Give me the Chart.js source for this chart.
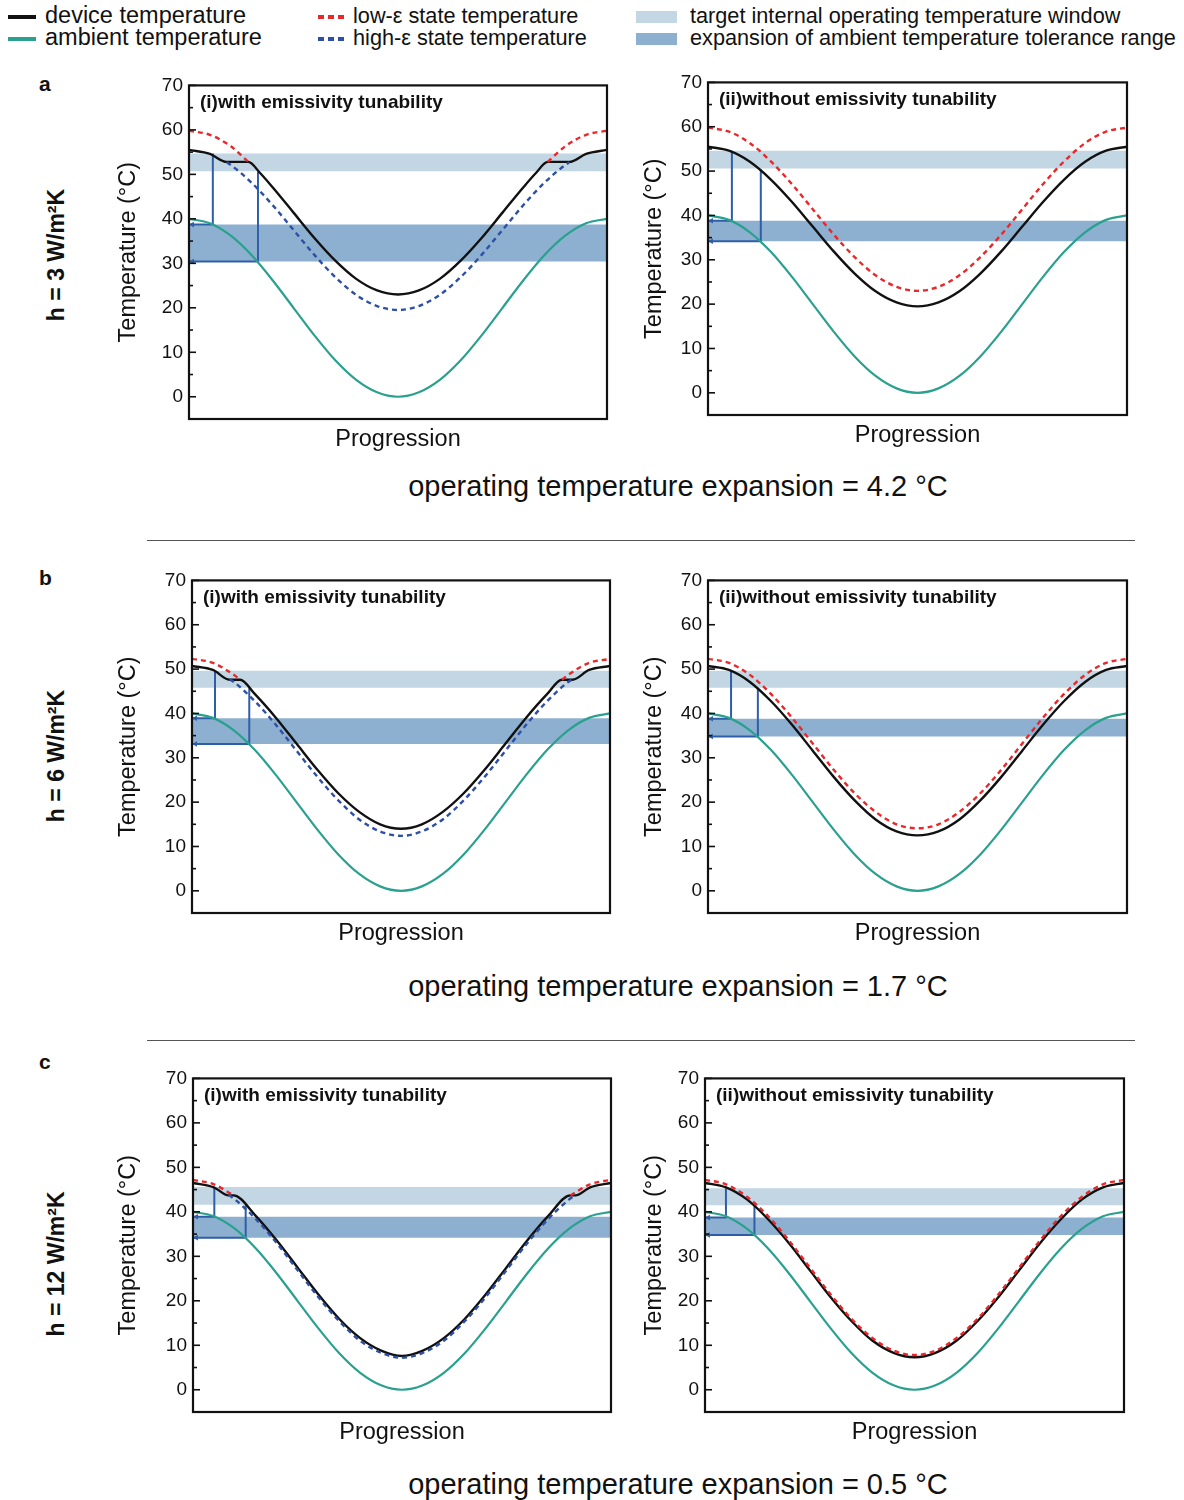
<!DOCTYPE html>
<html><head><meta charset="utf-8">
<script src="https://cdn.jsdelivr.net/npm/chart.js@4.4.1/dist/chart.umd.min.js"></script>
<style>
html,body{margin:0;padding:0;background:#fff}
body{width:1184px;height:1500px;position:relative;overflow:hidden;font-family:"Liberation Sans",Arial,Helvetica,sans-serif;color:#111}
.abs{position:absolute;white-space:nowrap;line-height:1}
canvas{position:absolute}
</style></head><body>
<script>
// ---------------- DATA ----------------
const tGrid = [0,0.05,0.1,0.15,0.2,0.25,0.3,0.35,0.4,0.45,0.5,0.55,0.6,0.65,0.7,0.75,0.8,0.85,0.9,0.95,1];
const ambientTemp = [40,39.0,36.2,31.8,26.2,20.0,13.8,8.2,3.8,1.0,0.0,1.0,3.8,8.2,13.8,20.0,26.2,31.8,36.2,39.0,40];
const yTickValues = [0,10,20,30,40,50,60,70];
const yMinorValues = [5,15,25,35,45,55,65];

// row a : h = 3 W/m2K
const aHighEps = [55.5,54.6,52.1,48.1,43.1,37.5,31.9,26.9,22.9,20.4,19.5,20.4,22.9,26.9,31.9,37.5,43.1,48.1,52.1,54.6,55.5];
const aLowEps  = [59.8,58.9,56.3,52.2,47.1,41.4,35.7,30.6,26.5,23.9,23.0,23.9,26.5,30.6,35.7,41.4,47.1,52.2,56.3,58.9,59.8];
const aTunedX = [0,0.05,0.09,0.142,0.17,0.2,0.25,0.3,0.35,0.4,0.45,0.5,0.55,0.6,0.65,0.7,0.75,0.8,0.83,0.858,0.91,0.95,1];
const aTunedY = [55.5,54.6,52.8,52.8,50.3,47.1,41.4,35.7,30.6,26.5,23.9,23.0,23.9,26.5,30.6,35.7,41.4,47.1,50.3,52.8,52.8,54.6,55.5];
const aLowShownX = [0,0.05,0.1,0.142,0.5,0.858,0.9,0.95,1];
const aLowShownY = [59.8,58.9,56.3,52.8,null,52.8,56.3,58.9,59.8];
const aHighShownX = [0.09,0.1,0.15,0.2,0.25,0.3,0.35,0.4,0.45,0.5,0.55,0.6,0.65,0.7,0.75,0.8,0.85,0.9,0.91];
const aHighShownY = [52.7,52.1,48.1,43.1,37.5,31.9,26.9,22.9,20.4,19.5,20.4,22.9,26.9,31.9,37.5,43.1,48.1,52.1,52.7];
const aTargetI = [50.7,54.7], aExpandI = [30.4,38.7];
const aStepsI = [[0.057,38.7,54.7],[0.165,30.4,50.6]];
const aTargetII = [50.6,54.6], aExpandII = [34.2,38.8];
const aStepsII = [[0.057,38.8,54.6],[0.126,34.2,50.4]];

// row b : h = 6 W/m2K
const bHighEps = [50.7,49.8,47.1,42.8,37.5,31.6,25.7,20.4,16.1,13.4,12.5,13.4,16.1,20.4,25.7,31.6,37.5,42.8,47.1,49.8,50.7];
const bLowEps  = [52.3,51.4,48.7,44.4,39.1,33.2,27.3,22.0,17.8,15.0,14.1,15.0,17.8,22.0,27.3,33.2,39.1,44.4,48.7,51.4,52.3];
const bTunedX = [0,0.05,0.09,0.115,0.15,0.2,0.25,0.3,0.35,0.4,0.45,0.5,0.55,0.6,0.65,0.7,0.75,0.8,0.85,0.885,0.91,0.95,1];
const bTunedY = [50.7,49.8,47.6,47.6,44.4,39.1,33.2,27.3,22.0,17.8,15.0,14.0,15.0,17.8,22.0,27.3,33.2,39.1,44.4,47.6,47.6,49.8,50.7];
const bLowShownX = [0,0.05,0.1,0.115,0.5,0.885,0.9,0.95,1];
const bLowShownY = [52.3,51.4,48.7,47.6,null,47.6,48.7,51.4,52.3];
const bHighShownX = [0.09,0.1,0.15,0.2,0.25,0.3,0.35,0.4,0.45,0.5,0.55,0.6,0.65,0.7,0.75,0.8,0.85,0.9,0.91];
const bHighShownY = [47.7,47.1,42.8,37.5,31.6,25.7,20.4,16.1,13.4,12.4,13.4,16.1,20.4,25.7,31.6,37.5,42.8,47.1,47.7];
const bTargetI = [45.8,49.6], bExpandI = [33.1,38.9];
const bStepsI = [[0.055,38.9,49.6],[0.137,33.1,45.8]];
const bTargetII = [45.8,49.6], bExpandII = [34.8,38.8];
const bStepsII = [[0.055,38.8,49.6],[0.119,34.8,45.8]];

// row c : h = 12 W/m2K
const cHighEps = [46.5,45.5,42.8,38.4,33.0,26.9,20.8,15.4,11.0,8.3,7.3,8.3,11.0,15.4,20.8,26.9,33.0,38.4,42.8,45.5,46.5];
const cLowEps  = [47.2,46.2,43.4,39.1,33.6,27.5,21.4,15.9,11.6,8.8,7.8,8.8,11.6,15.9,21.4,27.5,33.6,39.1,43.4,46.2,47.2];
const cTunedX = [0,0.05,0.085,0.097,0.15,0.2,0.25,0.3,0.35,0.4,0.45,0.5,0.55,0.6,0.65,0.7,0.75,0.8,0.85,0.903,0.915,0.95,1];
const cTunedY = [46.5,45.5,43.7,43.7,39.1,33.6,27.5,21.4,15.9,11.6,8.8,7.6,8.8,11.6,15.9,21.4,27.5,33.6,39.1,43.7,43.7,45.5,46.5];
const cLowShownX = [0,0.05,0.097,0.5,0.903,0.95,1];
const cLowShownY = [47.2,46.2,43.7,null,43.7,46.2,47.2];
const cHighShownX = [0.085,0.1,0.15,0.2,0.25,0.3,0.35,0.4,0.45,0.5,0.55,0.6,0.65,0.7,0.75,0.8,0.85,0.9,0.915];
const cHighShownY = [43.8,42.8,38.4,33.0,26.9,20.8,15.4,11.0,8.3,7.2,8.3,11.0,15.4,20.8,26.9,33.0,38.4,42.8,43.8];
const cTargetI = [41.6,45.6], cExpandI = [34.2,38.9];
const cStepsI = [[0.051,38.9,45.6],[0.126,34.2,41.6]];
const cTargetII = [41.5,45.3], cExpandII = [34.8,38.7];
const cStepsII = [[0.05,38.7,45.3],[0.118,34.8,41.5]];

const rowLetters = ['a','b','c'];
const hLabels = ['h = 3 W/m²K','h = 6 W/m²K','h = 12 W/m²K'];
const expansionValues = ['4.2','1.7','0.5'];
const panelTitles = ['(i)with emissivity tunability','(ii)without emissivity tunability'];
const legendLines = ['device temperature','ambient temperature','low-ε state temperature','high-ε state temperature'];
const legendBands = ['target internal operating temperature window','expansion of ambient temperature tolerance range'];

// ---------------- STYLE / LAYOUT ----------------
const FONT = "'Liberation Sans', Arial, Helvetica, sans-serif";
const C = {black:'#111111', teal:'#2aa08e', red:'#e8282b', blue:'#2d4fa6', step:'#2e5ea8', light:'#c3d6e4', dark:'#8eb0d0'};
const AXIS_TITLE_SIZE = 23.5;

const panels = [
 {left:189,right:607,top:82,bottom:419,titleCx:128, title:0, device:[aTunedX,aTunedY], low:[aLowShownX,aLowShownY], high:[aHighShownX,aHighShownY], target:aTargetI, expand:aExpandI, steps:aStepsI},
 {left:708,right:1127,top:79,bottom:415,titleCx:654, title:1, device:[tGrid,aHighEps], low:[tGrid,aLowEps], high:null, target:aTargetII, expand:aExpandII, steps:aStepsII},
 {left:192,right:610,top:577,bottom:913,titleCx:128, title:0, device:[bTunedX,bTunedY], low:[bLowShownX,bLowShownY], high:[bHighShownX,bHighShownY], target:bTargetI, expand:bExpandI, steps:bStepsI},
 {left:708,right:1127,top:577,bottom:913,titleCx:654, title:1, device:[tGrid,bHighEps], low:[tGrid,bLowEps], high:null, target:bTargetII, expand:bExpandII, steps:bStepsII},
 {left:193,right:611,top:1075,bottom:1412,titleCx:128, title:0, device:[cTunedX,cTunedY], low:[cLowShownX,cLowShownY], high:[cHighShownX,cHighShownY], target:cTargetI, expand:cExpandI, steps:cStepsI},
 {left:705,right:1124,top:1075,bottom:1412,titleCx:654, title:1, device:[tGrid,cHighEps], low:[tGrid,cLowEps], high:null, target:cTargetII, expand:cExpandII, steps:cStepsII}
];

function addText(txt, left, top, size, opts={}) {
  const d = document.createElement('div');
  d.className = 'abs';
  d.textContent = txt;
  d.style.left = left + 'px';
  d.style.top = top + 'px';
  d.style.fontSize = size + 'px';
  if (opts.bold) d.style.fontWeight = 'bold';
  if (opts.transform) d.style.transform = opts.transform;
  d.style.zIndex = 3;
  document.body.appendChild(d);
  return d;
}
function addBox(left, top, w, h, bg) {
  const d = document.createElement('div');
  d.style.cssText = `position:absolute;left:${left}px;top:${top}px;width:${w}px;height:${h}px;background:${bg};z-index:3`;
  document.body.appendChild(d);
}

// legend
addBox(8,15,28,4,C.black);
addBox(8,37,28,4,C.teal);
addBox(318,15,28,4,`repeating-linear-gradient(90deg, ${C.red} 0 6px, transparent 6px 10px)`);
addBox(318,37,28,4,`repeating-linear-gradient(90deg, ${C.blue} 0 6px, transparent 6px 10px)`);
addBox(636,11,41,12,C.light);
addBox(636,33,41,12,C.dark);
addText(legendLines[0],45,3.5,23.5);
addText(legendLines[1],45,25.5,23.5);
addText(legendLines[2],353,4.5,21.7);
addText(legendLines[3],353,26.5,21.7);
addText(legendBands[0],690,4.5,21.7);
addText(legendBands[1],690,26.5,21.7);

// row labels / separators / expansion text
const rowLetterTop = [73, 567, 1051];
const hCenterY = [255, 756, 1264];
const expCenterY = [486, 986, 1484];
rowLetters.forEach((l,i)=>{
  addText(l, 39, rowLetterTop[i], 21, {bold:true});
  const h = addText(hLabels[i], 0, 0, 23, {bold:true});
  h.style.left = '56px'; h.style.top = hCenterY[i] + 'px';
  h.style.transform = 'translate(-50%,-50%) rotate(-90deg)';
  addText('operating temperature expansion = ' + expansionValues[i] + ' °C', 678, expCenterY[i] - 14.5, 29, {transform:'translateX(-50%)'});
});
addBox(147,540,988,1,'#555');
addBox(147,1040,988,1,'#555');

// ---------------- CHARTS ----------------
const pts = (xs, ys) => xs.map((x,i)=>({x:x, y:ys[i]}));

const framePlugin = {
  id:'frameTicks',
  afterDraw(chart){
    const {ctx, chartArea:a} = chart; const y = chart.scales.y;
    ctx.save();
    ctx.strokeStyle = C.black;
    ctx.lineWidth = 1.6;
    yTickValues.forEach(v=>{ const py = y.getPixelForValue(v); ctx.beginPath(); ctx.moveTo(a.left, py); ctx.lineTo(a.left+7, py); ctx.stroke(); });
    yMinorValues.forEach(v=>{ const py = y.getPixelForValue(v); ctx.beginPath(); ctx.moveTo(a.left, py); ctx.lineTo(a.left+4, py); ctx.stroke(); });
    ctx.lineWidth = 2.2;
    ctx.strokeRect(a.left, a.top, a.right-a.left, a.bottom-a.top);
    ctx.restore();
  }
};

panels.forEach(p=>{
  const lh = AXIS_TITLE_SIZE * 1.2;
  const axisW = Math.round(p.left - p.titleCx + lh/2 + 1);
  const padTop = 14, padRight = 4, xAxisH = Math.round(20.5 + lh/2 + 1);
  const plotW = p.right - p.left, plotH = p.bottom - p.top;
  const W = axisW + plotW + padRight, H = padTop + plotH + xAxisH;
  const cv = document.createElement('canvas');
  cv.width = W; cv.height = H;
  cv.style.left = (p.left - axisW) + 'px';
  cv.style.top = (p.top - padTop) + 'px';
  cv.style.width = W + 'px'; cv.style.height = H + 'px';
  document.body.appendChild(cv);

  const curve = {pointRadius:0, fill:false, cubicInterpolationMode:'monotone', spanGaps:false};
  const ds = [];
  if (p.high) ds.push({...curve, data:pts(p.high[0],p.high[1]), borderColor:C.blue, borderWidth:2.4, borderDash:[5,4], order:1});
  ds.push({...curve, data:pts(p.low[0],p.low[1]), borderColor:C.red, borderWidth:2.4, borderDash:[5,4], order:1});
  ds.push({...curve, data:pts(p.device[0],p.device[1]), borderColor:C.black, borderWidth:2.4, order:2});
  ds.push({...curve, data:pts(tGrid,ambientTemp), borderColor:C.teal, borderWidth:2.2, order:3});
  p.steps.forEach(s=>{
    ds.push({data:[{x:0.008,y:s[1]},{x:0,y:s[1]},{x:s[0],y:s[1]},{x:s[0],y:s[2]}], borderColor:C.step, backgroundColor:C.step, borderWidth:2, tension:0,
      pointRadius:[3.2,0,0,0], pointStyle:'triangle', rotation:-90, pointBorderWidth:0, fill:false, order:4});
  });
  ds.push({data:[{x:0,y:p.target[1]},{x:1,y:p.target[1]}], borderColor:'rgba(0,0,0,0)', borderWidth:0, backgroundColor:C.light, pointRadius:0, fill:{value:p.target[0]}, order:6});
  ds.push({data:[{x:0,y:p.expand[1]},{x:1,y:p.expand[1]}], borderColor:'rgba(0,0,0,0)', borderWidth:0, backgroundColor:C.dark, pointRadius:0, fill:{value:p.expand[0]}, order:6});

  new Chart(cv, {
    type:'line',
    data:{datasets:ds},
    plugins:[framePlugin],
    options:{
      responsive:false, animation:false, devicePixelRatio:1,
      layout:{padding:{top:padTop,right:padRight,left:0,bottom:0}, autoPadding:false},
      plugins:{legend:{display:false}, tooltip:{enabled:false}, title:{display:false}},
      scales:{
        x:{type:'linear', min:0, max:1, ticks:{display:false}, grid:{display:false, drawTicks:false}, border:{display:false},
           title:{display:true, text:'Progression', color:C.black, font:{family:FONT, size:AXIS_TITLE_SIZE}, padding:{top:0,bottom:1}},
           afterFit(s){ s.height = xAxisH; }},
        y:{type:'linear', min:-5, max:70,
           ticks:{color:C.black, font:{family:FONT, size:19}, padding:6},
           grid:{display:false, drawTicks:false}, border:{display:false},
           title:{display:true, text:'Temperature (°C)', color:C.black, font:{family:FONT, size:AXIS_TITLE_SIZE}, padding:{top:1,bottom:0}},
           afterBuildTicks(s){ s.ticks = yTickValues.map(v=>({value:v})); },
           afterFit(s){ s.width = axisW; }}
      }
    }
  });

  addText(panelTitles[p.title], p.left + 11, p.top + 19 - 9.5, 19, {bold:true});
});
</script>
</body></html>
